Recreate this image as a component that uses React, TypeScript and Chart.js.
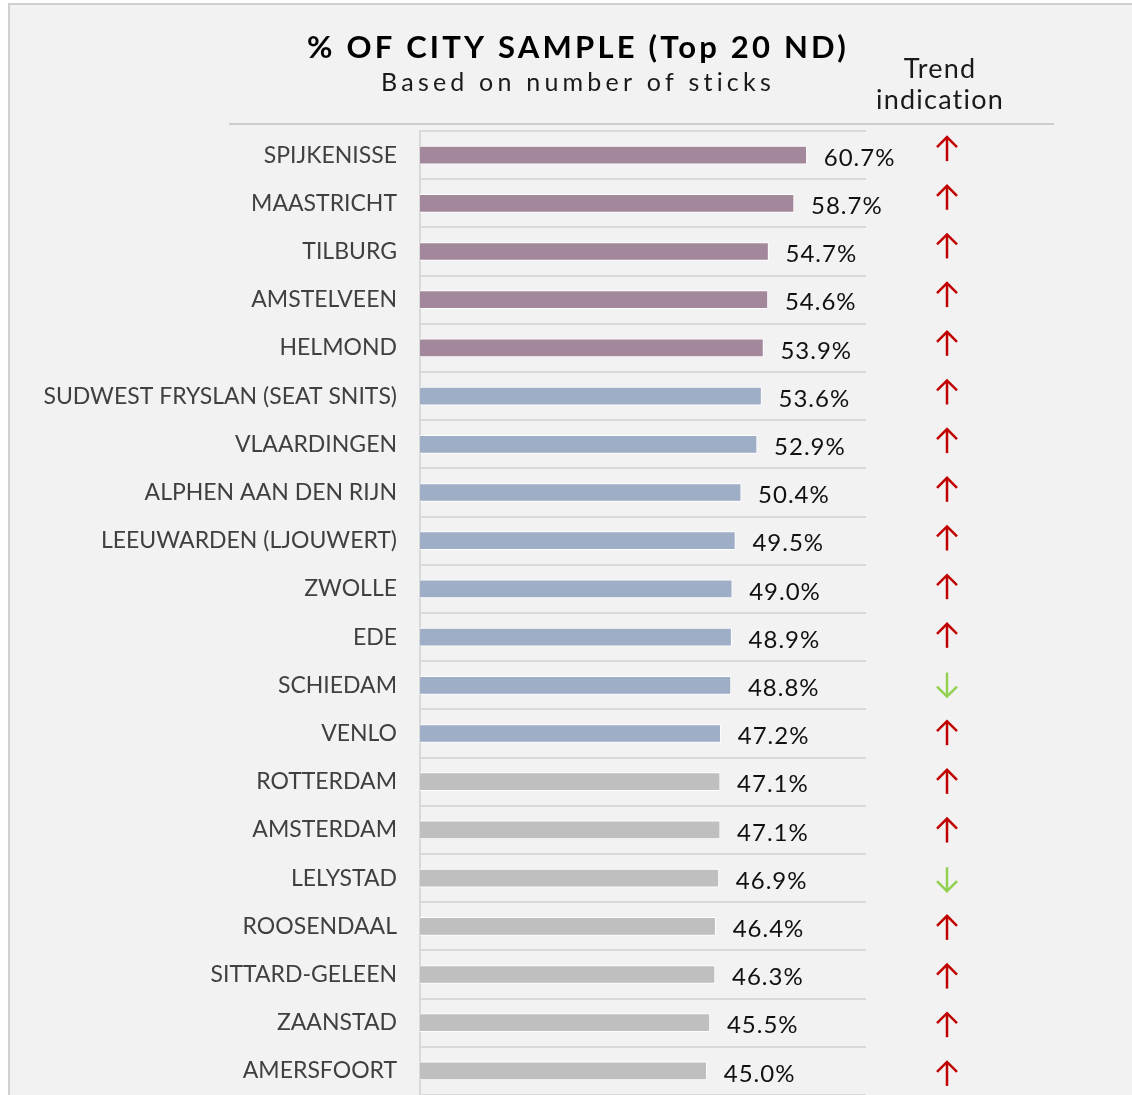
import React, { useEffect, useRef } from "react";
import { Chart, registerables } from "chart.js";

Chart.register(...registerables);

const cities = [
  "SPIJKENISSE",
  "MAASTRICHT",
  "TILBURG",
  "AMSTELVEEN",
  "HELMOND",
  "SUDWEST FRYSLAN (SEAT SNITS)",
  "VLAARDINGEN",
  "ALPHEN AAN DEN RIJN",
  "LEEUWARDEN (LJOUWERT)",
  "ZWOLLE",
  "EDE",
  "SCHIEDAM",
  "VENLO",
  "ROTTERDAM",
  "AMSTERDAM",
  "LELYSTAD",
  "ROOSENDAAL",
  "SITTARD-GELEEN",
  "ZAANSTAD",
  "AMERSFOORT",
];

const shares = [
  60.7, 58.7, 54.7, 54.6, 53.9, 53.6, 52.9, 50.4, 49.5, 49.0, 48.9, 48.8, 47.2,
  47.1, 47.1, 46.9, 46.4, 46.3, 45.5, 45.0,
];

const trends = [
  "up", "up", "up", "up", "up", "up", "up", "up", "up", "up", "up", "down",
  "up", "up", "up", "down", "up", "up", "up", "up",
];

const groups = [
  "top", "top", "top", "top", "top",
  "mid", "mid", "mid", "mid", "mid", "mid", "mid", "mid",
  "rest", "rest", "rest", "rest", "rest", "rest", "rest",
];

const titleText = "% OF CITY SAMPLE (Top 20 ND)";
const subtitleText = "Based on number of sticks";
const trendHeader = ["Trend", "indication"];

const groupColors: Record<string, string> = {
  top: "#a3889b",
  mid: "#9eaec6",
  rest: "#bfbfbf",
};

const FONT = "Lato, 'Open Sans', sans-serif";

const overlayPlugin = {
  id: "overlay",
  beforeDraw(chart: any) {
    const ctx = chart.ctx;
    ctx.save();
    ctx.fillStyle = "#ffffff";
    ctx.fillRect(0, 0, chart.width, chart.height);
    ctx.fillStyle = "#f2f2f2";
    ctx.fillRect(10, 5, chart.width - 10, chart.height - 5);
    ctx.strokeStyle = "#d0d0d0";
    ctx.lineWidth = 2;
    ctx.beginPath();
    ctx.moveTo(9, chart.height);
    ctx.lineTo(9, 4);
    ctx.lineTo(chart.width, 4);
    ctx.stroke();
    ctx.restore();
  },
  afterDraw(chart: any) {
    const ctx = chart.ctx;
    const yScale = chart.scales.y;
    const meta = chart.getDatasetMeta(0);
    ctx.save();

    // title
    ctx.fillStyle = "#000000";
    ctx.textAlign = "center";
    ctx.textBaseline = "middle";
    ctx.font = `bold 31px ${FONT}`;
    (ctx as any).letterSpacing = "3.2px";
    ctx.fillText(titleText, 578, 48);
    ctx.font = `25px ${FONT}`;
    (ctx as any).letterSpacing = "4.2px";
    ctx.fillStyle = "#1a1a1a";
    ctx.fillText(subtitleText, 578, 83);

    // trend header
    ctx.font = `27px ${FONT}`;
    (ctx as any).letterSpacing = "1.2px";
    ctx.fillStyle = "#1a1a1a";
    ctx.fillText(trendHeader[0], 940, 69);
    ctx.fillText(trendHeader[1], 940, 100);

    // separator
    ctx.strokeStyle = "#cccccc";
    ctx.lineWidth = 2;
    ctx.beginPath();
    ctx.moveTo(229, 124);
    ctx.lineTo(1054, 124);
    ctx.stroke();

    // value labels
    ctx.font = `24px ${FONT}`;
    (ctx as any).letterSpacing = "1px";
    ctx.fillStyle = "#111111";
    ctx.textAlign = "left";
    meta.data.forEach((bar: any, i: number) => {
      ctx.fillText(shares[i].toFixed(1) + "%", bar.x + 17, bar.y + 3);
    });
    (ctx as any).letterSpacing = "0px";

    // trend arrows
    const n = cities.length;
    trends.forEach((t, i) => {
      const cy = yScale.getPixelForValue(i) - 6 + (9 * i) / (n - 1);
      const x = 947;
      ctx.lineWidth = 2.5;
      ctx.lineCap = "butt";
      ctx.lineJoin = "miter";
      const top = cy - 12;
      const bot = cy + 12;
      if (t === "up") {
        ctx.strokeStyle = "#c00000";
        ctx.beginPath();
        ctx.moveTo(x, top + 1);
        ctx.lineTo(x, bot);
        ctx.stroke();
        ctx.beginPath();
        ctx.moveTo(x - 10, top + 10);
        ctx.lineTo(x, top);
        ctx.lineTo(x + 10, top + 10);
        ctx.stroke();
      } else {
        ctx.strokeStyle = "#92d050";
        ctx.beginPath();
        ctx.moveTo(x, top);
        ctx.lineTo(x, bot - 1);
        ctx.stroke();
        ctx.beginPath();
        ctx.moveTo(x - 10, bot - 10);
        ctx.lineTo(x, bot);
        ctx.lineTo(x + 10, bot - 10);
        ctx.stroke();
      }
    });
    ctx.restore();
  },
};

export default function App() {
  const ref = useRef<HTMLCanvasElement | null>(null);
  useEffect(() => {
    document.body.style.margin = "0";
    const canvas = ref.current!;
    const chart = new Chart(canvas, {
      type: "bar",
      data: {
        labels: cities,
        datasets: [
          {
            data: shares,
            backgroundColor: groups.map((g) => groupColors[g]),
            borderColor: "#ffffff",
            borderWidth: 1,
            borderSkipped: "start",
            barThickness: 18,
          },
        ],
      },
      options: {
        indexAxis: "y",
        responsive: false,
        animation: false,
        devicePixelRatio: 1,
        layout: {
          autoPadding: false,
          padding: { top: 131, right: 266, bottom: 0, left: 0 },
        },
        plugins: {
          legend: { display: false },
          title: { display: false },
          tooltip: { enabled: false },
        },
        scales: {
          x: { display: false, min: 0, max: 70 },
          y: {
            afterFit(scale: any) {
              scale.width = 420;
              scale.paddingTop = 0;
              scale.paddingBottom = 0;
            },
            grid: {
              color: "#d9d9d9",
              lineWidth: 2,
              drawTicks: false,
              offset: true,
            },
            border: { display: true, color: "#d9d9d9", width: 2 },
            ticks: {
              autoSkip: false,
              padding: 23,
              color: "#404040",
              font: { family: FONT, size: 23 },
            },
          },
        },
      },
      plugins: [overlayPlugin],
    });
    return () => chart.destroy();
  }, []);
  return (
    <canvas
      ref={ref}
      width={1132}
      height={1095}
      style={{ display: "block", width: 1132, height: 1095 }}
    />
  );
}
